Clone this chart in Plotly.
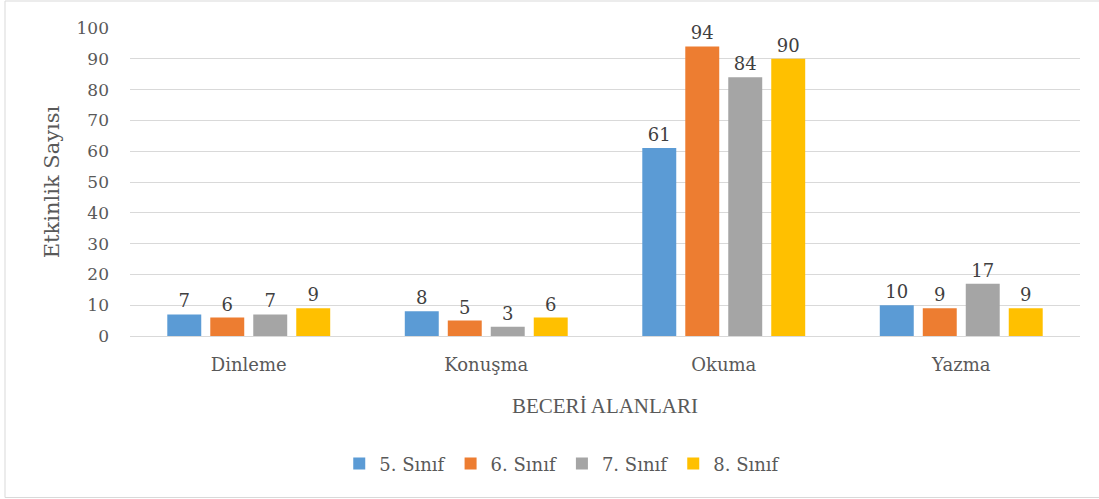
import plotly.graph_objects as go

categories = ["Dinleme", "Konuşma", "Okuma", "Yazma"]
series_names = ["5. Sınıf", "6. Sınıf", "7. Sınıf", "8. Sınıf"]
s5 = [7, 8, 61, 10]
s6 = [6, 5, 94, 9]
s7 = [7, 3, 84, 17]
s8 = [9, 6, 90, 9]
colors = ["#5B9BD5", "#ED7D31", "#A5A5A5", "#FFC000"]
y_ticks = [0, 10, 20, 30, 40, 50, 60, 70, 80, 90, 100]

FONT = "Georgia, 'DejaVu Serif', serif"

fig = go.Figure()
for name, vals, col in zip(series_names, [s5, s6, s7, s8], colors):
    fig.add_trace(go.Bar(
        x=categories, y=vals, name=name,
        marker=dict(color=col, line=dict(width=0)),
        text=[str(v) for v in vals], textposition="outside",
        textfont=dict(family=FONT, size=18, color="#404040"),
        cliponaxis=False,
    ))

fig.update_layout(
    width=1099, height=499,
    margin=dict(l=130, r=19, t=28, b=163, autoexpand=False),
    paper_bgcolor="white", plot_bgcolor="white",
    barmode="group", bargap=0.276, bargroupgap=0.21,
    font=dict(family=FONT, color="#595959", size=16),
    showlegend=True,
    legend=dict(orientation="h", x=0.455, xanchor="center", y=-0.355, yanchor="top",
                font=dict(family=FONT, size=18, color="#595959"),
                itemwidth=30, tracegroupgap=0, traceorder="normal"),
    xaxis=dict(
        automargin=False,
        showgrid=False, showline=True, linecolor="#D9D9D9", linewidth=1,
        ticks="", tickfont=dict(family=FONT, size=18, color="#595959"),
        ticklabelstandoff=12,
        title=dict(text="BECERİ ALANLARI", standoff=24,
                   font=dict(family="'Liberation Serif', 'Times New Roman', serif", size=21, color="#595959")),
    ),
    yaxis=dict(
        automargin=False,
        range=[0, 100], tickvals=y_ticks, showgrid=True, gridcolor="#D9D9D9", gridwidth=1,
        zeroline=False, showline=False, ticks="",
        tickfont=dict(family=FONT, size=17, color="#595959"),
        ticklabelstandoff=20,
        title=dict(text="Etkinlik Sayısı", standoff=11,
                   font=dict(family=FONT, size=21, color="#595959")),
    ),
    shapes=[dict(type="rect", xref="paper", yref="paper",
                 x0=-125/950, x1=1.1, y0=-161.5/308, y1=1 + 27/308,
                 line=dict(color="#D9D9D9", width=1), fillcolor="rgba(0,0,0,0)", layer="below")],
)

fig.write_html("out.html", config={"displayModeBar": False},
               post_script="document.body.style.margin='0';document.body.style.padding='0';")
